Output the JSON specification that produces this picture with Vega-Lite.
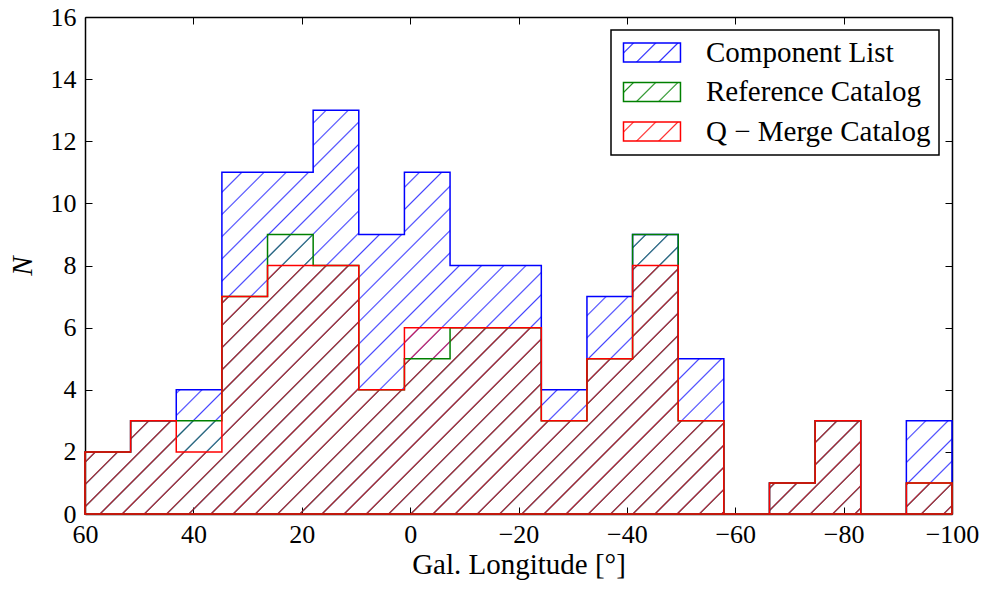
{
  "$schema": "https://vega.github.io/schema/vega-lite/v6.json",
  "width": 867,
  "height": 497,
  "autosize": {"type": "none"},
  "padding": {"left": 85, "top": 17, "right": 37, "bottom": 79},
  "background": "white",
  "params": [
    {"name": "hatchKeyBlue", "value": {"id": "hatch_key_blue", "gradient": "linear", "x1": 0, "y1": 0, "x2": 1.2, "y2": 0.4, "stops": [{"offset":0.1106,"color":"#00f0"},{"offset":0.1316,"color":"#00fd"},{"offset":0.1526,"color":"#00f0"},{"offset":0.4027,"color":"#00f0"},{"offset":0.4237,"color":"#00fd"},{"offset":0.4447,"color":"#00f0"},{"offset":0.6948,"color":"#00f0"},{"offset":0.7158,"color":"#00fd"},{"offset":0.7368,"color":"#00f0"}]}},
    {"name": "hatchKeyGreen", "value": {"id": "hatch_key_green", "gradient": "linear", "x1": 0, "y1": 0, "x2": 1.2, "y2": 0.4, "stops": [{"offset":0.1106,"color":"#00800000"},{"offset":0.1316,"color":"#008000dd"},{"offset":0.1526,"color":"#00800000"},{"offset":0.4027,"color":"#00800000"},{"offset":0.4237,"color":"#008000dd"},{"offset":0.4447,"color":"#00800000"},{"offset":0.6948,"color":"#00800000"},{"offset":0.7158,"color":"#008000dd"},{"offset":0.7368,"color":"#00800000"}]}},
    {"name": "hatchKeyRed", "value": {"id": "hatch_key_red", "gradient": "linear", "x1": 0, "y1": 0, "x2": 1.2, "y2": 0.4, "stops": [{"offset":0.1106,"color":"#f000"},{"offset":0.1316,"color":"#f00d"},{"offset":0.1526,"color":"#f000"},{"offset":0.4027,"color":"#f000"},{"offset":0.4237,"color":"#f00d"},{"offset":0.4447,"color":"#f000"},{"offset":0.6948,"color":"#f000"},{"offset":0.7158,"color":"#f00d"},{"offset":0.7368,"color":"#f000"}]}}
  ],
  "data": {
    "values": [
      {"series":"Component List","lo":60,"hi":51.5789,"n":2},
      {"series":"Component List","lo":51.5789,"hi":43.1579,"n":3},
      {"series":"Component List","lo":43.1579,"hi":34.7368,"n":4},
      {"series":"Component List","lo":34.7368,"hi":26.3158,"n":11},
      {"series":"Component List","lo":26.3158,"hi":17.8947,"n":11},
      {"series":"Component List","lo":17.8947,"hi":9.4737,"n":13},
      {"series":"Component List","lo":9.4737,"hi":1.0526,"n":9},
      {"series":"Component List","lo":1.0526,"hi":-7.3684,"n":11},
      {"series":"Component List","lo":-7.3684,"hi":-15.7895,"n":8},
      {"series":"Component List","lo":-15.7895,"hi":-24.2105,"n":8},
      {"series":"Component List","lo":-24.2105,"hi":-32.6316,"n":4},
      {"series":"Component List","lo":-32.6316,"hi":-41.0526,"n":7},
      {"series":"Component List","lo":-41.0526,"hi":-49.4737,"n":9},
      {"series":"Component List","lo":-49.4737,"hi":-57.8947,"n":5},
      {"series":"Component List","lo":-57.8947,"hi":-66.3158,"n":0},
      {"series":"Component List","lo":-66.3158,"hi":-74.7368,"n":1},
      {"series":"Component List","lo":-74.7368,"hi":-83.1579,"n":3},
      {"series":"Component List","lo":-83.1579,"hi":-91.5789,"n":0},
      {"series":"Component List","lo":-91.5789,"hi":-100,"n":3},
      {"series":"Reference Catalog","lo":60,"hi":51.5789,"n":2},
      {"series":"Reference Catalog","lo":51.5789,"hi":43.1579,"n":3},
      {"series":"Reference Catalog","lo":43.1579,"hi":34.7368,"n":3},
      {"series":"Reference Catalog","lo":34.7368,"hi":26.3158,"n":7},
      {"series":"Reference Catalog","lo":26.3158,"hi":17.8947,"n":9},
      {"series":"Reference Catalog","lo":17.8947,"hi":9.4737,"n":8},
      {"series":"Reference Catalog","lo":9.4737,"hi":1.0526,"n":4},
      {"series":"Reference Catalog","lo":1.0526,"hi":-7.3684,"n":5},
      {"series":"Reference Catalog","lo":-7.3684,"hi":-15.7895,"n":6},
      {"series":"Reference Catalog","lo":-15.7895,"hi":-24.2105,"n":6},
      {"series":"Reference Catalog","lo":-24.2105,"hi":-32.6316,"n":3},
      {"series":"Reference Catalog","lo":-32.6316,"hi":-41.0526,"n":5},
      {"series":"Reference Catalog","lo":-41.0526,"hi":-49.4737,"n":9},
      {"series":"Reference Catalog","lo":-49.4737,"hi":-57.8947,"n":3},
      {"series":"Reference Catalog","lo":-57.8947,"hi":-66.3158,"n":0},
      {"series":"Reference Catalog","lo":-66.3158,"hi":-74.7368,"n":1},
      {"series":"Reference Catalog","lo":-74.7368,"hi":-83.1579,"n":3},
      {"series":"Reference Catalog","lo":-83.1579,"hi":-91.5789,"n":0},
      {"series":"Reference Catalog","lo":-91.5789,"hi":-100,"n":1},
      {"series":"Q − Merge Catalog","lo":60,"hi":51.5789,"n":2},
      {"series":"Q − Merge Catalog","lo":51.5789,"hi":43.1579,"n":3},
      {"series":"Q − Merge Catalog","lo":43.1579,"hi":34.7368,"n":2},
      {"series":"Q − Merge Catalog","lo":34.7368,"hi":26.3158,"n":7},
      {"series":"Q − Merge Catalog","lo":26.3158,"hi":17.8947,"n":8},
      {"series":"Q − Merge Catalog","lo":17.8947,"hi":9.4737,"n":8},
      {"series":"Q − Merge Catalog","lo":9.4737,"hi":1.0526,"n":4},
      {"series":"Q − Merge Catalog","lo":1.0526,"hi":-7.3684,"n":6},
      {"series":"Q − Merge Catalog","lo":-7.3684,"hi":-15.7895,"n":6},
      {"series":"Q − Merge Catalog","lo":-15.7895,"hi":-24.2105,"n":6},
      {"series":"Q − Merge Catalog","lo":-24.2105,"hi":-32.6316,"n":3},
      {"series":"Q − Merge Catalog","lo":-32.6316,"hi":-41.0526,"n":5},
      {"series":"Q − Merge Catalog","lo":-41.0526,"hi":-49.4737,"n":8},
      {"series":"Q − Merge Catalog","lo":-49.4737,"hi":-57.8947,"n":3},
      {"series":"Q − Merge Catalog","lo":-57.8947,"hi":-66.3158,"n":0},
      {"series":"Q − Merge Catalog","lo":-66.3158,"hi":-74.7368,"n":1},
      {"series":"Q − Merge Catalog","lo":-74.7368,"hi":-83.1579,"n":3},
      {"series":"Q − Merge Catalog","lo":-83.1579,"hi":-91.5789,"n":0},
      {"series":"Q − Merge Catalog","lo":-91.5789,"hi":-100,"n":1}
    ]
  },
  "transform": [{"fold": ["lo", "hi"], "as": ["side", "edge"]}],
  "resolve": {"axis": {"x": "independent", "y": "independent"}},
  "layer": [
    {
      "transform": [{"filter": "datum.series === 'Component List'"}],
      "mark": {
        "type": "area", "interpolate": "linear", "opacity": 1,
        "fill": {"gradient": "linear", "x1": 0, "y1": 0, "x2": 1.26247, "y2": 0.588, "stops": [
          {"offset":0.0132,"color":"#00f0"},{"offset":0.0144,"color":"#00fb"},{"offset":0.0156,"color":"#00f0"},
          {"offset":0.0299,"color":"#00f0"},{"offset":0.0311,"color":"#00fb"},{"offset":0.0323,"color":"#00f0"},
          {"offset":0.0465,"color":"#00f0"},{"offset":0.0477,"color":"#00fb"},{"offset":0.0489,"color":"#00f0"},
          {"offset":0.0632,"color":"#00f0"},{"offset":0.0644,"color":"#00fb"},{"offset":0.0656,"color":"#00f0"},
          {"offset":0.0799,"color":"#00f0"},{"offset":0.0811,"color":"#00fb"},{"offset":0.0823,"color":"#00f0"},
          {"offset":0.0965,"color":"#00f0"},{"offset":0.0977,"color":"#00fb"},{"offset":0.0989,"color":"#00f0"},
          {"offset":0.1132,"color":"#00f0"},{"offset":0.1144,"color":"#00fb"},{"offset":0.1156,"color":"#00f0"},
          {"offset":0.1299,"color":"#00f0"},{"offset":0.1311,"color":"#00fb"},{"offset":0.1323,"color":"#00f0"},
          {"offset":0.1465,"color":"#00f0"},{"offset":0.1477,"color":"#00fb"},{"offset":0.1489,"color":"#00f0"},
          {"offset":0.1632,"color":"#00f0"},{"offset":0.1644,"color":"#00fb"},{"offset":0.1656,"color":"#00f0"},
          {"offset":0.1799,"color":"#00f0"},{"offset":0.1811,"color":"#00fb"},{"offset":0.1823,"color":"#00f0"},
          {"offset":0.1965,"color":"#00f0"},{"offset":0.1977,"color":"#00fb"},{"offset":0.1989,"color":"#00f0"},
          {"offset":0.2132,"color":"#00f0"},{"offset":0.2144,"color":"#00fb"},{"offset":0.2156,"color":"#00f0"},
          {"offset":0.2299,"color":"#00f0"},{"offset":0.2311,"color":"#00fb"},{"offset":0.2323,"color":"#00f0"},
          {"offset":0.2465,"color":"#00f0"},{"offset":0.2477,"color":"#00fb"},{"offset":0.2489,"color":"#00f0"},
          {"offset":0.2632,"color":"#00f0"},{"offset":0.2644,"color":"#00fb"},{"offset":0.2656,"color":"#00f0"},
          {"offset":0.2799,"color":"#00f0"},{"offset":0.2811,"color":"#00fb"},{"offset":0.2823,"color":"#00f0"},
          {"offset":0.2965,"color":"#00f0"},{"offset":0.2977,"color":"#00fb"},{"offset":0.2989,"color":"#00f0"},
          {"offset":0.3132,"color":"#00f0"},{"offset":0.3144,"color":"#00fb"},{"offset":0.3156,"color":"#00f0"},
          {"offset":0.3299,"color":"#00f0"},{"offset":0.3311,"color":"#00fb"},{"offset":0.3323,"color":"#00f0"},
          {"offset":0.3465,"color":"#00f0"},{"offset":0.3477,"color":"#00fb"},{"offset":0.3489,"color":"#00f0"},
          {"offset":0.3632,"color":"#00f0"},{"offset":0.3644,"color":"#00fb"},{"offset":0.3656,"color":"#00f0"},
          {"offset":0.3799,"color":"#00f0"},{"offset":0.3811,"color":"#00fb"},{"offset":0.3823,"color":"#00f0"},
          {"offset":0.3965,"color":"#00f0"},{"offset":0.3977,"color":"#00fb"},{"offset":0.3989,"color":"#00f0"},
          {"offset":0.4132,"color":"#00f0"},{"offset":0.4144,"color":"#00fb"},{"offset":0.4156,"color":"#00f0"},
          {"offset":0.4299,"color":"#00f0"},{"offset":0.4311,"color":"#00fb"},{"offset":0.4323,"color":"#00f0"},
          {"offset":0.4465,"color":"#00f0"},{"offset":0.4477,"color":"#00fb"},{"offset":0.4489,"color":"#00f0"},
          {"offset":0.4632,"color":"#00f0"},{"offset":0.4644,"color":"#00fb"},{"offset":0.4656,"color":"#00f0"},
          {"offset":0.4799,"color":"#00f0"},{"offset":0.4811,"color":"#00fb"},{"offset":0.4823,"color":"#00f0"},
          {"offset":0.4965,"color":"#00f0"},{"offset":0.4977,"color":"#00fb"},{"offset":0.4989,"color":"#00f0"},
          {"offset":0.5132,"color":"#00f0"},{"offset":0.5144,"color":"#00fb"},{"offset":0.5156,"color":"#00f0"},
          {"offset":0.5299,"color":"#00f0"},{"offset":0.5311,"color":"#00fb"},{"offset":0.5323,"color":"#00f0"},
          {"offset":0.5465,"color":"#00f0"},{"offset":0.5477,"color":"#00fb"},{"offset":0.5489,"color":"#00f0"},
          {"offset":0.5632,"color":"#00f0"},{"offset":0.5644,"color":"#00fb"},{"offset":0.5656,"color":"#00f0"},
          {"offset":0.5799,"color":"#00f0"},{"offset":0.5811,"color":"#00fb"},{"offset":0.5823,"color":"#00f0"},
          {"offset":0.5965,"color":"#00f0"},{"offset":0.5977,"color":"#00fb"},{"offset":0.5989,"color":"#00f0"},
          {"offset":0.6132,"color":"#00f0"},{"offset":0.6144,"color":"#00fb"},{"offset":0.6156,"color":"#00f0"},
          {"offset":0.6299,"color":"#00f0"},{"offset":0.6311,"color":"#00fb"},{"offset":0.6323,"color":"#00f0"},
          {"offset":0.6465,"color":"#00f0"},{"offset":0.6477,"color":"#00fb"},{"offset":0.6489,"color":"#00f0"},
          {"offset":0.6632,"color":"#00f0"},{"offset":0.6644,"color":"#00fb"},{"offset":0.6656,"color":"#00f0"},
          {"offset":0.6799,"color":"#00f0"},{"offset":0.6811,"color":"#00fb"},{"offset":0.6823,"color":"#00f0"},
          {"offset":0.6965,"color":"#00f0"},{"offset":0.6977,"color":"#00fb"},{"offset":0.6989,"color":"#00f0"},
          {"offset":0.7132,"color":"#00f0"},{"offset":0.7144,"color":"#00fb"},{"offset":0.7156,"color":"#00f0"},
          {"offset":0.7299,"color":"#00f0"},{"offset":0.7311,"color":"#00fb"},{"offset":0.7323,"color":"#00f0"},
          {"offset":0.7465,"color":"#00f0"},{"offset":0.7477,"color":"#00fb"},{"offset":0.7489,"color":"#00f0"},
          {"offset":0.7632,"color":"#00f0"},{"offset":0.7644,"color":"#00fb"},{"offset":0.7656,"color":"#00f0"},
          {"offset":0.7799,"color":"#00f0"},{"offset":0.7811,"color":"#00fb"},{"offset":0.7823,"color":"#00f0"},
          {"offset":0.7965,"color":"#00f0"},{"offset":0.7977,"color":"#00fb"},{"offset":0.7989,"color":"#00f0"},
          {"offset":0.8132,"color":"#00f0"},{"offset":0.8144,"color":"#00fb"},{"offset":0.8156,"color":"#00f0"},
          {"offset":0.8299,"color":"#00f0"},{"offset":0.8311,"color":"#00fb"},{"offset":0.8323,"color":"#00f0"},
          {"offset":0.8465,"color":"#00f0"},{"offset":0.8477,"color":"#00fb"},{"offset":0.8489,"color":"#00f0"},
          {"offset":0.8632,"color":"#00f0"},{"offset":0.8644,"color":"#00fb"},{"offset":0.8656,"color":"#00f0"},
          {"offset":0.8799,"color":"#00f0"},{"offset":0.8811,"color":"#00fb"},{"offset":0.8823,"color":"#00f0"},
          {"offset":0.8965,"color":"#00f0"},{"offset":0.8977,"color":"#00fb"},{"offset":0.8989,"color":"#00f0"},
          {"offset":0.9132,"color":"#00f0"},{"offset":0.9144,"color":"#00fb"},{"offset":0.9156,"color":"#00f0"},
          {"offset":0.9299,"color":"#00f0"},{"offset":0.9311,"color":"#00fb"},{"offset":0.9323,"color":"#00f0"},
          {"offset":0.9465,"color":"#00f0"},{"offset":0.9477,"color":"#00fb"},{"offset":0.9489,"color":"#00f0"}
        ]}
      },
      "encoding": {
        "x": {"field": "edge", "type": "quantitative", "scale": {"domain": [60, -100], "nice": false, "zero": false},
              "axis": {"orient": "bottom", "values": [60, 40, 20, 0, -20, -40, -60, -80, -100], "format": "d", "labelPadding": 14, "title": "Gal. Longitude [°]", "titlePadding": 3, "titleFontSize": 29}},
        "y": {"field": "n", "type": "quantitative", "stack": null, "scale": {"domain": [0, 16], "nice": false, "zero": true},
              "axis": {"orient": "left", "values": [0, 2, 4, 6, 8, 10, 12, 14, 16], "format": "d", "labelPadding": 16, "title": "N", "titleFontStyle": "italic", "titleFontSize": 29, "titlePadding": 13}},
        "order": [{"field": "lo", "sort": "descending"}, {"field": "edge", "sort": "descending"}]
      }
    },
    {
      "transform": [{"filter": "datum.series === 'Reference Catalog'"}],
      "mark": {
        "type": "area", "interpolate": "linear", "opacity": 1,
        "fill": {"gradient": "linear", "x1": 0, "y1": 0, "x2": 1.39164, "y2": 0.44873, "stops": [
          {"offset":0.0033,"color":"#00800000"},{"offset":0.0045,"color":"#00800099"},{"offset":0.0057,"color":"#00800000"},
          {"offset":0.02,"color":"#00800000"},{"offset":0.0212,"color":"#00800099"},{"offset":0.0224,"color":"#00800000"},
          {"offset":0.0366,"color":"#00800000"},{"offset":0.0378,"color":"#00800099"},{"offset":0.039,"color":"#00800000"},
          {"offset":0.0533,"color":"#00800000"},{"offset":0.0545,"color":"#00800099"},{"offset":0.0557,"color":"#00800000"},
          {"offset":0.07,"color":"#00800000"},{"offset":0.0712,"color":"#00800099"},{"offset":0.0724,"color":"#00800000"},
          {"offset":0.0866,"color":"#00800000"},{"offset":0.0878,"color":"#00800099"},{"offset":0.089,"color":"#00800000"},
          {"offset":0.1033,"color":"#00800000"},{"offset":0.1045,"color":"#00800099"},{"offset":0.1057,"color":"#00800000"},
          {"offset":0.12,"color":"#00800000"},{"offset":0.1212,"color":"#00800099"},{"offset":0.1224,"color":"#00800000"},
          {"offset":0.1366,"color":"#00800000"},{"offset":0.1378,"color":"#00800099"},{"offset":0.139,"color":"#00800000"},
          {"offset":0.1533,"color":"#00800000"},{"offset":0.1545,"color":"#00800099"},{"offset":0.1557,"color":"#00800000"},
          {"offset":0.17,"color":"#00800000"},{"offset":0.1712,"color":"#00800099"},{"offset":0.1724,"color":"#00800000"},
          {"offset":0.1866,"color":"#00800000"},{"offset":0.1878,"color":"#00800099"},{"offset":0.189,"color":"#00800000"},
          {"offset":0.2033,"color":"#00800000"},{"offset":0.2045,"color":"#00800099"},{"offset":0.2057,"color":"#00800000"},
          {"offset":0.22,"color":"#00800000"},{"offset":0.2212,"color":"#00800099"},{"offset":0.2224,"color":"#00800000"},
          {"offset":0.2366,"color":"#00800000"},{"offset":0.2378,"color":"#00800099"},{"offset":0.239,"color":"#00800000"},
          {"offset":0.2533,"color":"#00800000"},{"offset":0.2545,"color":"#00800099"},{"offset":0.2557,"color":"#00800000"},
          {"offset":0.27,"color":"#00800000"},{"offset":0.2712,"color":"#00800099"},{"offset":0.2724,"color":"#00800000"},
          {"offset":0.2866,"color":"#00800000"},{"offset":0.2878,"color":"#00800099"},{"offset":0.289,"color":"#00800000"},
          {"offset":0.3033,"color":"#00800000"},{"offset":0.3045,"color":"#00800099"},{"offset":0.3057,"color":"#00800000"},
          {"offset":0.32,"color":"#00800000"},{"offset":0.3212,"color":"#00800099"},{"offset":0.3224,"color":"#00800000"},
          {"offset":0.3366,"color":"#00800000"},{"offset":0.3378,"color":"#00800099"},{"offset":0.339,"color":"#00800000"},
          {"offset":0.3533,"color":"#00800000"},{"offset":0.3545,"color":"#00800099"},{"offset":0.3557,"color":"#00800000"},
          {"offset":0.37,"color":"#00800000"},{"offset":0.3712,"color":"#00800099"},{"offset":0.3724,"color":"#00800000"},
          {"offset":0.3866,"color":"#00800000"},{"offset":0.3878,"color":"#00800099"},{"offset":0.389,"color":"#00800000"},
          {"offset":0.4033,"color":"#00800000"},{"offset":0.4045,"color":"#00800099"},{"offset":0.4057,"color":"#00800000"},
          {"offset":0.42,"color":"#00800000"},{"offset":0.4212,"color":"#00800099"},{"offset":0.4224,"color":"#00800000"},
          {"offset":0.4366,"color":"#00800000"},{"offset":0.4378,"color":"#00800099"},{"offset":0.439,"color":"#00800000"},
          {"offset":0.4533,"color":"#00800000"},{"offset":0.4545,"color":"#00800099"},{"offset":0.4557,"color":"#00800000"},
          {"offset":0.47,"color":"#00800000"},{"offset":0.4712,"color":"#00800099"},{"offset":0.4724,"color":"#00800000"},
          {"offset":0.4866,"color":"#00800000"},{"offset":0.4878,"color":"#00800099"},{"offset":0.489,"color":"#00800000"},
          {"offset":0.5033,"color":"#00800000"},{"offset":0.5045,"color":"#00800099"},{"offset":0.5057,"color":"#00800000"},
          {"offset":0.52,"color":"#00800000"},{"offset":0.5212,"color":"#00800099"},{"offset":0.5224,"color":"#00800000"},
          {"offset":0.5366,"color":"#00800000"},{"offset":0.5378,"color":"#00800099"},{"offset":0.539,"color":"#00800000"},
          {"offset":0.5533,"color":"#00800000"},{"offset":0.5545,"color":"#00800099"},{"offset":0.5557,"color":"#00800000"},
          {"offset":0.57,"color":"#00800000"},{"offset":0.5712,"color":"#00800099"},{"offset":0.5724,"color":"#00800000"},
          {"offset":0.5866,"color":"#00800000"},{"offset":0.5878,"color":"#00800099"},{"offset":0.589,"color":"#00800000"},
          {"offset":0.6033,"color":"#00800000"},{"offset":0.6045,"color":"#00800099"},{"offset":0.6057,"color":"#00800000"},
          {"offset":0.62,"color":"#00800000"},{"offset":0.6212,"color":"#00800099"},{"offset":0.6224,"color":"#00800000"},
          {"offset":0.6366,"color":"#00800000"},{"offset":0.6378,"color":"#00800099"},{"offset":0.639,"color":"#00800000"},
          {"offset":0.6533,"color":"#00800000"},{"offset":0.6545,"color":"#00800099"},{"offset":0.6557,"color":"#00800000"},
          {"offset":0.67,"color":"#00800000"},{"offset":0.6712,"color":"#00800099"},{"offset":0.6724,"color":"#00800000"},
          {"offset":0.6866,"color":"#00800000"},{"offset":0.6878,"color":"#00800099"},{"offset":0.689,"color":"#00800000"},
          {"offset":0.7033,"color":"#00800000"},{"offset":0.7045,"color":"#00800099"},{"offset":0.7057,"color":"#00800000"},
          {"offset":0.72,"color":"#00800000"},{"offset":0.7212,"color":"#00800099"},{"offset":0.7224,"color":"#00800000"},
          {"offset":0.7366,"color":"#00800000"},{"offset":0.7378,"color":"#00800099"},{"offset":0.739,"color":"#00800000"},
          {"offset":0.7533,"color":"#00800000"},{"offset":0.7545,"color":"#00800099"},{"offset":0.7557,"color":"#00800000"},
          {"offset":0.77,"color":"#00800000"},{"offset":0.7712,"color":"#00800099"},{"offset":0.7724,"color":"#00800000"},
          {"offset":0.7866,"color":"#00800000"},{"offset":0.7878,"color":"#00800099"},{"offset":0.789,"color":"#00800000"},
          {"offset":0.8033,"color":"#00800000"},{"offset":0.8045,"color":"#00800099"},{"offset":0.8057,"color":"#00800000"},
          {"offset":0.82,"color":"#00800000"},{"offset":0.8212,"color":"#00800099"},{"offset":0.8224,"color":"#00800000"},
          {"offset":0.8366,"color":"#00800000"},{"offset":0.8378,"color":"#00800099"},{"offset":0.839,"color":"#00800000"},
          {"offset":0.8533,"color":"#00800000"},{"offset":0.8545,"color":"#00800099"},{"offset":0.8557,"color":"#00800000"}
        ]}
      },
      "encoding": {
        "x": {"field": "edge", "type": "quantitative", "scale": {"domain": [60, -100], "nice": false, "zero": false},
              "axis": {"orient": "top", "values": [60, 40, 20, 0, -20, -40, -60, -80, -100], "labels": false, "title": null}},
        "y": {"field": "n", "type": "quantitative", "stack": null, "scale": {"domain": [0, 16], "nice": false, "zero": true},
              "axis": {"orient": "right", "values": [0, 2, 4, 6, 8, 10, 12, 14, 16], "labels": false, "title": null}},
        "order": [{"field": "lo", "sort": "descending"}, {"field": "edge", "sort": "descending"}]
      }
    },
    {
      "transform": [{"filter": "datum.series === 'Q − Merge Catalog'"}],
      "mark": {
        "type": "area", "interpolate": "linear", "opacity": 1,
        "fill": {"gradient": "linear", "x1": 0, "y1": 0, "x2": 1.4197, "y2": 0.40692, "stops": [
          {"offset":0.0132,"color":"#f000"},{"offset":0.0144,"color":"#f00a"},{"offset":0.0156,"color":"#f000"},
          {"offset":0.0299,"color":"#f000"},{"offset":0.0311,"color":"#f00a"},{"offset":0.0323,"color":"#f000"},
          {"offset":0.0465,"color":"#f000"},{"offset":0.0477,"color":"#f00a"},{"offset":0.0489,"color":"#f000"},
          {"offset":0.0632,"color":"#f000"},{"offset":0.0644,"color":"#f00a"},{"offset":0.0656,"color":"#f000"},
          {"offset":0.0799,"color":"#f000"},{"offset":0.0811,"color":"#f00a"},{"offset":0.0823,"color":"#f000"},
          {"offset":0.0965,"color":"#f000"},{"offset":0.0977,"color":"#f00a"},{"offset":0.0989,"color":"#f000"},
          {"offset":0.1132,"color":"#f000"},{"offset":0.1144,"color":"#f00a"},{"offset":0.1156,"color":"#f000"},
          {"offset":0.1299,"color":"#f000"},{"offset":0.1311,"color":"#f00a"},{"offset":0.1323,"color":"#f000"},
          {"offset":0.1465,"color":"#f000"},{"offset":0.1477,"color":"#f00a"},{"offset":0.1489,"color":"#f000"},
          {"offset":0.1632,"color":"#f000"},{"offset":0.1644,"color":"#f00a"},{"offset":0.1656,"color":"#f000"},
          {"offset":0.1799,"color":"#f000"},{"offset":0.1811,"color":"#f00a"},{"offset":0.1823,"color":"#f000"},
          {"offset":0.1965,"color":"#f000"},{"offset":0.1977,"color":"#f00a"},{"offset":0.1989,"color":"#f000"},
          {"offset":0.2132,"color":"#f000"},{"offset":0.2144,"color":"#f00a"},{"offset":0.2156,"color":"#f000"},
          {"offset":0.2299,"color":"#f000"},{"offset":0.2311,"color":"#f00a"},{"offset":0.2323,"color":"#f000"},
          {"offset":0.2465,"color":"#f000"},{"offset":0.2477,"color":"#f00a"},{"offset":0.2489,"color":"#f000"},
          {"offset":0.2632,"color":"#f000"},{"offset":0.2644,"color":"#f00a"},{"offset":0.2656,"color":"#f000"},
          {"offset":0.2799,"color":"#f000"},{"offset":0.2811,"color":"#f00a"},{"offset":0.2823,"color":"#f000"},
          {"offset":0.2965,"color":"#f000"},{"offset":0.2977,"color":"#f00a"},{"offset":0.2989,"color":"#f000"},
          {"offset":0.3132,"color":"#f000"},{"offset":0.3144,"color":"#f00a"},{"offset":0.3156,"color":"#f000"},
          {"offset":0.3299,"color":"#f000"},{"offset":0.3311,"color":"#f00a"},{"offset":0.3323,"color":"#f000"},
          {"offset":0.3465,"color":"#f000"},{"offset":0.3477,"color":"#f00a"},{"offset":0.3489,"color":"#f000"},
          {"offset":0.3632,"color":"#f000"},{"offset":0.3644,"color":"#f00a"},{"offset":0.3656,"color":"#f000"},
          {"offset":0.3799,"color":"#f000"},{"offset":0.3811,"color":"#f00a"},{"offset":0.3823,"color":"#f000"},
          {"offset":0.3965,"color":"#f000"},{"offset":0.3977,"color":"#f00a"},{"offset":0.3989,"color":"#f000"},
          {"offset":0.4132,"color":"#f000"},{"offset":0.4144,"color":"#f00a"},{"offset":0.4156,"color":"#f000"},
          {"offset":0.4299,"color":"#f000"},{"offset":0.4311,"color":"#f00a"},{"offset":0.4323,"color":"#f000"},
          {"offset":0.4465,"color":"#f000"},{"offset":0.4477,"color":"#f00a"},{"offset":0.4489,"color":"#f000"},
          {"offset":0.4632,"color":"#f000"},{"offset":0.4644,"color":"#f00a"},{"offset":0.4656,"color":"#f000"},
          {"offset":0.4799,"color":"#f000"},{"offset":0.4811,"color":"#f00a"},{"offset":0.4823,"color":"#f000"},
          {"offset":0.4965,"color":"#f000"},{"offset":0.4977,"color":"#f00a"},{"offset":0.4989,"color":"#f000"},
          {"offset":0.5132,"color":"#f000"},{"offset":0.5144,"color":"#f00a"},{"offset":0.5156,"color":"#f000"},
          {"offset":0.5299,"color":"#f000"},{"offset":0.5311,"color":"#f00a"},{"offset":0.5323,"color":"#f000"},
          {"offset":0.5465,"color":"#f000"},{"offset":0.5477,"color":"#f00a"},{"offset":0.5489,"color":"#f000"},
          {"offset":0.5632,"color":"#f000"},{"offset":0.5644,"color":"#f00a"},{"offset":0.5656,"color":"#f000"},
          {"offset":0.5799,"color":"#f000"},{"offset":0.5811,"color":"#f00a"},{"offset":0.5823,"color":"#f000"},
          {"offset":0.5965,"color":"#f000"},{"offset":0.5977,"color":"#f00a"},{"offset":0.5989,"color":"#f000"},
          {"offset":0.6132,"color":"#f000"},{"offset":0.6144,"color":"#f00a"},{"offset":0.6156,"color":"#f000"},
          {"offset":0.6299,"color":"#f000"},{"offset":0.6311,"color":"#f00a"},{"offset":0.6323,"color":"#f000"},
          {"offset":0.6465,"color":"#f000"},{"offset":0.6477,"color":"#f00a"},{"offset":0.6489,"color":"#f000"},
          {"offset":0.6632,"color":"#f000"},{"offset":0.6644,"color":"#f00a"},{"offset":0.6656,"color":"#f000"},
          {"offset":0.6799,"color":"#f000"},{"offset":0.6811,"color":"#f00a"},{"offset":0.6823,"color":"#f000"},
          {"offset":0.6965,"color":"#f000"},{"offset":0.6977,"color":"#f00a"},{"offset":0.6989,"color":"#f000"},
          {"offset":0.7132,"color":"#f000"},{"offset":0.7144,"color":"#f00a"},{"offset":0.7156,"color":"#f000"},
          {"offset":0.7299,"color":"#f000"},{"offset":0.7311,"color":"#f00a"},{"offset":0.7323,"color":"#f000"},
          {"offset":0.7465,"color":"#f000"},{"offset":0.7477,"color":"#f00a"},{"offset":0.7489,"color":"#f000"},
          {"offset":0.7632,"color":"#f000"},{"offset":0.7644,"color":"#f00a"},{"offset":0.7656,"color":"#f000"},
          {"offset":0.7799,"color":"#f000"},{"offset":0.7811,"color":"#f00a"},{"offset":0.7823,"color":"#f000"},
          {"offset":0.7965,"color":"#f000"},{"offset":0.7977,"color":"#f00a"},{"offset":0.7989,"color":"#f000"},
          {"offset":0.8132,"color":"#f000"},{"offset":0.8144,"color":"#f00a"},{"offset":0.8156,"color":"#f000"},
          {"offset":0.8299,"color":"#f000"},{"offset":0.8311,"color":"#f00a"},{"offset":0.8323,"color":"#f000"},
          {"offset":0.8465,"color":"#f000"},{"offset":0.8477,"color":"#f00a"},{"offset":0.8489,"color":"#f000"}
        ]}
      },
      "encoding": {
        "x": {"field": "edge", "type": "quantitative", "scale": {"domain": [60, -100], "nice": false, "zero": false}, "axis": null},
        "y": {"field": "n", "type": "quantitative", "stack": null, "scale": {"domain": [0, 16], "nice": false, "zero": true}, "axis": null},
        "order": [{"field": "lo", "sort": "descending"}, {"field": "edge", "sort": "descending"}]
      }
    },
    {
      "mark": {"type": "area", "interpolate": "linear", "filled": false, "opacity": 1, "strokeWidth": 1.5},
      "encoding": {
        "x": {"field": "edge", "type": "quantitative", "scale": {"domain": [60, -100], "nice": false, "zero": false}, "axis": null},
        "y": {"field": "n", "type": "quantitative", "stack": null, "scale": {"domain": [0, 16], "nice": false, "zero": true}, "axis": null},
        "order": [{"field": "lo", "sort": "descending"}, {"field": "edge", "sort": "descending"}],
        "stroke": {"field": "series", "type": "nominal",
                   "scale": {"domain": ["Component List", "Reference Catalog", "Q − Merge Catalog"], "range": ["#0000ff", "#008000", "#ff0000"]},
                   "legend": {"orient": "top-right", "offset": 13, "title": null, "padding": 8,
                              "strokeColor": "black", "fillColor": "white", "cornerRadius": 0,
                              "symbolType": "M-0.91,-0.86H4.27V0.86H-0.91Z", "symbolSize": 484, "symbolStrokeWidth": 1.5,
                              "symbolFillColor": {"expr": "datum.value === 'Component List' ? hatchKeyBlue : (datum.value === 'Reference Catalog' ? hatchKeyGreen : hatchKeyRed)"},
                              "labelFont": "Liberation Serif", "labelFontSize": 29, "labelColor": "black", "labelOffset": 58, "labelLimit": 400,
                              "rowPadding": 9.5,
                              "encode": {"symbols": {"fill": {"value": {"expr": "datum.value === 'Component List' ? hatchKeyBlue : (datum.value === 'Reference Catalog' ? hatchKeyGreen : hatchKeyRed)"}}}}}}
      }
    }
  ],
  "config": {
    "view": {"stroke": null},
    "font": "Liberation Serif",
    "legend": {"strokeWidth": 1.5},
    "axis": {
      "domainColor": "black", "domainWidth": 1.5,
      "tickColor": "black", "tickWidth": 1, "tickSize": -7,
      "labelFont": "Liberation Serif", "labelFontSize": 26, "labelColor": "black",
      "titleFont": "Liberation Serif", "titleFontSize": 26, "titleFontWeight": "normal", "titleColor": "black",
      "grid": false, "zindex": 1, "labelFlush": false, "labelOverlap": false, "labelBound": false
    }
  }
}
